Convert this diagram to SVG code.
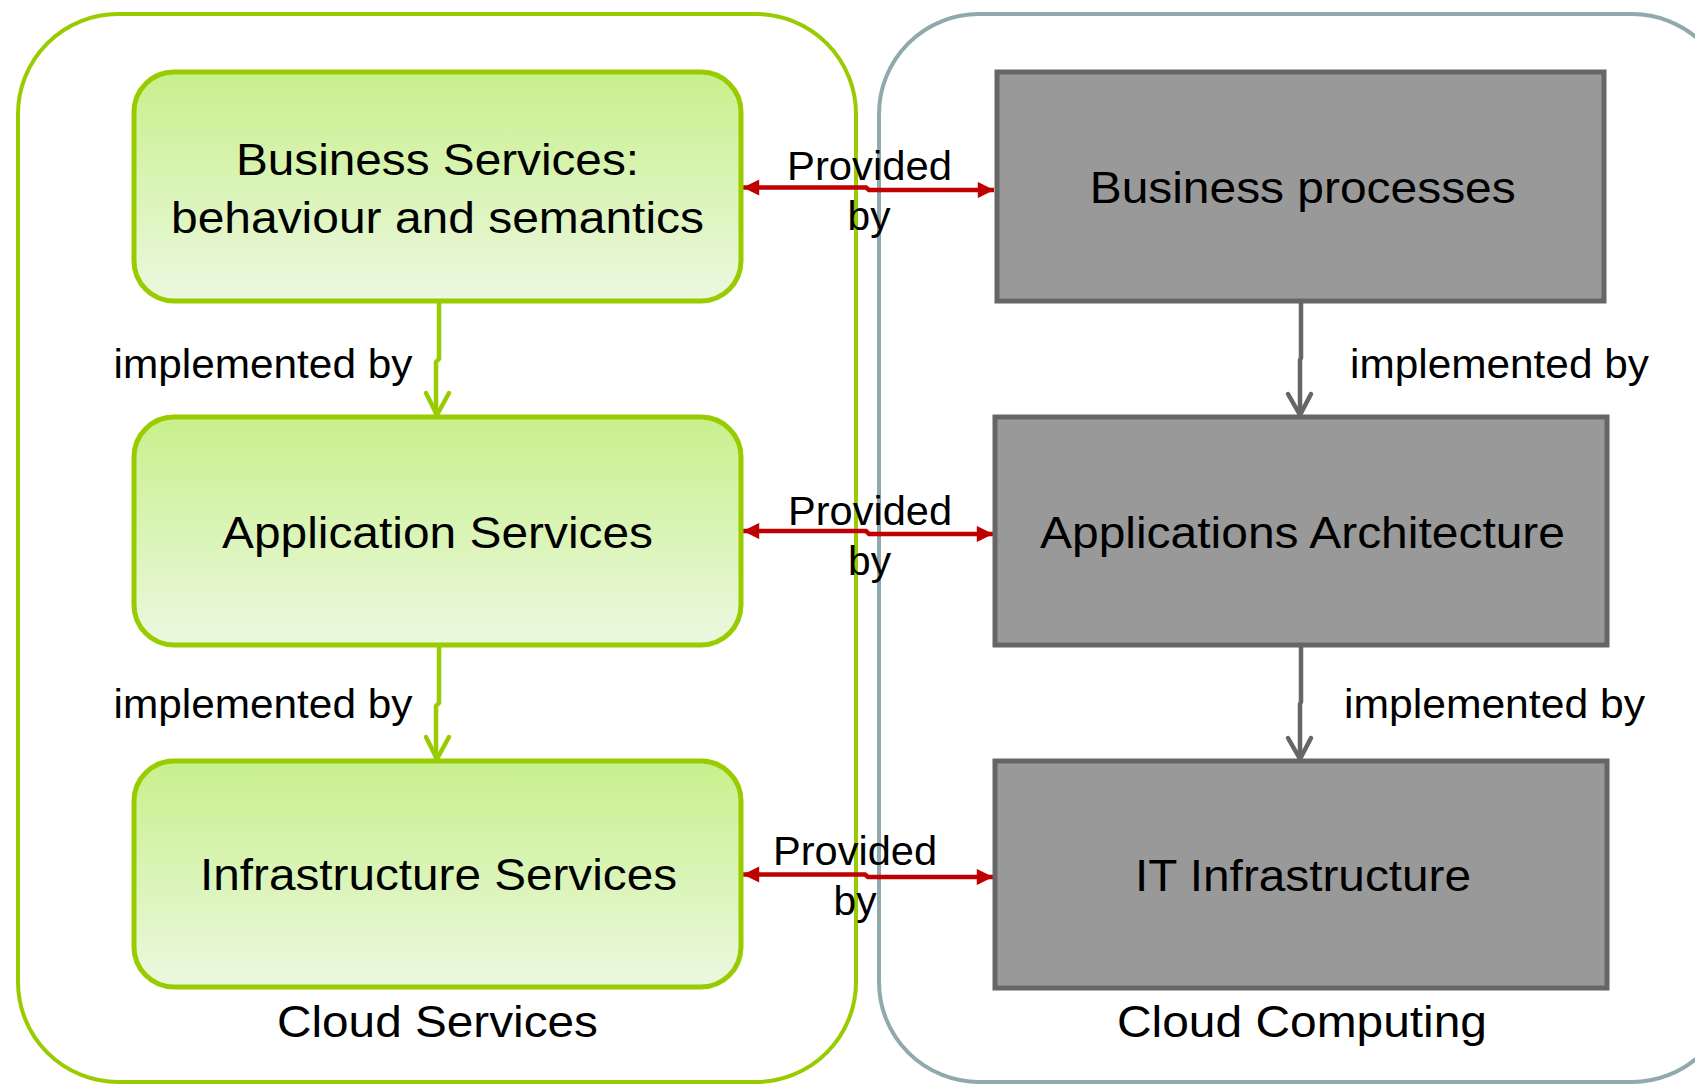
<svg xmlns="http://www.w3.org/2000/svg" width="1695" height="1084" viewBox="0 0 1695 1084">
  <defs>
    <linearGradient id="gGreen" x1="0" y1="0" x2="0" y2="1">
      <stop offset="0" stop-color="#C8F08C"/>
      <stop offset="1" stop-color="#ECF8E0"/>
    </linearGradient>
    <marker id="redHead" viewBox="0 0 10 10" refX="10" refY="5" markerWidth="4.4" markerHeight="3.6" orient="auto-start-reverse" markerUnits="strokeWidth">
      <path d="M0,0 L10,5 L0,10 Z" fill="#C00000"/>
    </marker>
  </defs>
  <style>
    .container-green { fill: none; stroke: #99CC00; stroke-width: 4; }
    .container-grey { fill: none; stroke: #8FA9AD; stroke-width: 4; }
    .gnode { fill: url(#gGreen); stroke: #99CC00; stroke-width: 5; }
    .dnode { fill: #999999; stroke: #666666; stroke-width: 5; }
    .t { font-family: "Liberation Sans", Arial, sans-serif; fill: #000; }
    .big { font-size: 45px; text-anchor: middle; }
    .lbl { font-size: 40px; }
    .mid { text-anchor: middle; }
    .gline { fill: none; stroke: #99CC00; stroke-width: 4.5; stroke-linejoin: round; stroke-linecap: round; }
    .dline { fill: none; stroke: #666666; stroke-width: 4.5; stroke-linejoin: round; stroke-linecap: round; }
    .rline { fill: none; stroke: #C00000; stroke-width: 4.5; }
  </style>

  <g id="container-cloud-services">
    <rect class="container-green" x="18" y="14" width="838" height="1068" rx="100" ry="100"/>
    <text class="t big" x="437.5" y="1037" textLength="321" lengthAdjust="spacingAndGlyphs">Cloud Services</text>
  </g>
  <g id="container-cloud-computing">
    <rect class="container-grey" x="879" y="14" width="853" height="1068" rx="100" ry="100"/>
    <text class="t big" x="1302" y="1037" textLength="370" lengthAdjust="spacingAndGlyphs">Cloud Computing</text>
  </g>

  <g id="connectors">
    <path class="gline" d="M439,303 V359 L436,362 V414"/>
    <path class="gline" d="M426,393 L437,415 L449,393"/>
    <path class="gline" d="M439,647 V703 L436,706 V758"/>
    <path class="gline" d="M426,737 L437,759 L449,737"/>
    <path class="dline" d="M1301,303 V358 L1300,360 V414"/>
    <path class="dline" d="M1288,394 L1300,415 L1311,394"/>
    <path class="dline" d="M1301,647 V702 L1300,704 V758"/>
    <path class="dline" d="M1288,738 L1300,759 L1311,738"/>
    <path class="rline" d="M743,187.5 H866 L869,190 H994" marker-start="url(#redHead)" marker-end="url(#redHead)"/>
    <path class="rline" d="M743,531 H866 L869,534 H993" marker-start="url(#redHead)" marker-end="url(#redHead)"/>
    <path class="rline" d="M743,874.5 H865 L868,877 H993" marker-start="url(#redHead)" marker-end="url(#redHead)"/>
  </g>

  <g id="connector-labels">
    <text class="t lbl" x="113.5" y="378" textLength="299" lengthAdjust="spacingAndGlyphs">implemented by</text>
    <text class="t lbl" x="113.5" y="718" textLength="299" lengthAdjust="spacingAndGlyphs">implemented by</text>
    <text class="t lbl" x="1350" y="378" textLength="299" lengthAdjust="spacingAndGlyphs">implemented by</text>
    <text class="t lbl" x="1344" y="718" textLength="301" lengthAdjust="spacingAndGlyphs">implemented by</text>
    <text class="t lbl mid" x="869.5" y="179.5" textLength="165" lengthAdjust="spacingAndGlyphs">Provided</text>
    <text class="t lbl mid" x="869" y="230" textLength="43" lengthAdjust="spacingAndGlyphs">by</text>
    <text class="t lbl mid" x="870" y="524.5" textLength="164" lengthAdjust="spacingAndGlyphs">Provided</text>
    <text class="t lbl mid" x="869.5" y="574.5" textLength="43" lengthAdjust="spacingAndGlyphs">by</text>
    <text class="t lbl mid" x="855" y="864.5" textLength="164" lengthAdjust="spacingAndGlyphs">Provided</text>
    <text class="t lbl mid" x="855" y="914.5" textLength="43" lengthAdjust="spacingAndGlyphs">by</text>
  </g>

  <g id="node-business-services">
    <rect class="gnode" x="134" y="72" width="607" height="229" rx="40" ry="40"/>
    <text class="t big" x="437.5" y="175" textLength="403" lengthAdjust="spacingAndGlyphs">Business Services:</text>
    <text class="t big" x="437.5" y="233" textLength="533" lengthAdjust="spacingAndGlyphs">behaviour and semantics</text>
  </g>
  <g id="node-application-services">
    <rect class="gnode" x="134" y="417" width="607" height="228" rx="40" ry="40"/>
    <text class="t big" x="437.5" y="548" textLength="431" lengthAdjust="spacingAndGlyphs">Application Services</text>
  </g>
  <g id="node-infrastructure-services">
    <rect class="gnode" x="134" y="761" width="607" height="226" rx="40" ry="40"/>
    <text class="t big" x="438.5" y="890" textLength="477" lengthAdjust="spacingAndGlyphs">Infrastructure Services</text>
  </g>
  <g id="node-business-processes">
    <rect class="dnode" x="997" y="72" width="607" height="229"/>
    <text class="t big" x="1302.7" y="203" textLength="426" lengthAdjust="spacingAndGlyphs">Business processes</text>
  </g>
  <g id="node-applications-architecture">
    <rect class="dnode" x="995" y="417" width="612" height="228"/>
    <text class="t big" x="1302.5" y="548" textLength="525" lengthAdjust="spacingAndGlyphs">Applications Architecture</text>
  </g>
  <g id="node-it-infrastructure">
    <rect class="dnode" x="995" y="761" width="612" height="227"/>
    <text class="t big" x="1303" y="891" textLength="336" lengthAdjust="spacingAndGlyphs">IT Infrastructure</text>
  </g>
</svg>
